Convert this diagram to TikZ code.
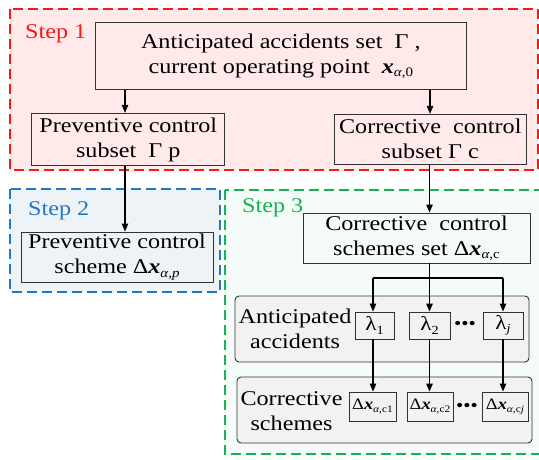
\documentclass[tikz,border=0pt]{standalone}
\usepackage{fontspec}
\usepackage{graphicx}
\setmainfont{Liberation Serif}[FakeStretch=1.15]
\usetikzlibrary{arrows.meta,positioning}

\definecolor{redline}{RGB}{245,25,25}
\definecolor{redfill}{RGB}{255,233,233}
\definecolor{blueline}{RGB}{30,120,200}
\definecolor{bluefill}{RGB}{238,243,248}
\definecolor{greenline}{RGB}{20,180,80}
\definecolor{greenfill}{RGB}{245,251,248}
\definecolor{panelfill}{RGB}{242,242,242}
\definecolor{edgegray}{RGB}{50,50,50}

% bold italic x and lowered small subscripts
\newcommand{\vx}{\textbf{\textit{x}}}
\newcommand{\lsub}[1]{\raisebox{-0.35ex}{\scalebox{0.62}{#1}}}

\begin{document}
\begin{tikzpicture}[x=1pt,y=-1pt,
  every node/.style={font=\fontsize{21}{25}\selectfont, align=center, inner sep=0pt},
  stepframe/.style={line width=1.3pt, dash pattern=on 10pt off 5pt},
  box/.style={draw=edgegray, line width=0.9pt},
  panel/.style={draw=edgegray, line width=0.9pt, fill=panelfill, rounded corners=4pt},
  steplabel/.style={anchor=base west, font=\fontsize{21}{25}\selectfont},
  arr/.style={line width=1.1pt, -{Triangle[length=8pt,width=6.5pt]}},
  smallbox/.style={box, minimum height=29pt, font=\fontsize{16}{18}\selectfont},
  lambox/.style={box, minimum height=27pt, font=\fontsize{20}{24}\selectfont},
  dots/.style={font=\fontsize{18}{20}\selectfont}]
\useasboundingbox (0,0) rectangle (539,460);

% step frames
\draw[stepframe, draw=redline, fill=redfill] (10,9) rectangle (538,170);
\draw[stepframe, draw=blueline, fill=bluefill] (10,189) rectangle (220,292);
\draw[stepframe, draw=greenline, fill=greenfill] (225,190) rectangle (548,454);

\node[steplabel, text=redline] (s1) at (25,39) {Step 1};
\node[steplabel, text=blueline] (s2) at (28,215.5) {Step 2};
\node[steplabel, text=greenline] (s3) at (242,212) {Step 3};

% step 1
\node[box, minimum width=371.7pt, minimum height=66.6pt] (top) at (280.8,56)
  {Anticipated accidents set\ \ Γ\ ,\\current operating point\ \ \vx\lsub{\textit{α},0}};
\node[box, minimum width=193pt, minimum height=52.4pt] (prev) at (128.3,139.5)
  {Preventive control\\subset\ \ Γ\ p};
\node[box, minimum width=192.7pt, minimum height=50pt] (corr) at (430.3,139.3)
  {Corrective\ \ control\\subset Γ\ c};

% step 2
\node[box, minimum width=192pt, minimum height=50pt] (pscheme) at (117,257)
  {Preventive control\\scheme Δ\vx\lsub{\textit{α,p}}};

% step 3
\node[box, minimum width=227pt, minimum height=50pt] (cset) at (416.5,238)
  {Corrective\ \ control\\schemes set Δ\vx\lsub{\textit{α},c}};

\node[panel, minimum width=294pt, minimum height=66pt] (accpanel) at (382,329) {};
\node[panel, minimum width=295pt, minimum height=66pt] (schpanel) at (384.5,410) {};
\node (acclabel) at (295,329) {Anticipated\\accidents};
\node (schlabel) at (291.5,411) {Corrective\\schemes};

\node[lambox, minimum width=39pt] (l1) at (374.5,325.5) {λ\lsub{1}};
\node[lambox, minimum width=41pt] (l2) at (429.5,325.5) {λ\lsub{2}};
\node[lambox, minimum width=40pt] (lj) at (503,325.5) {λ\lsub{\textit{j}}};
\node[dots] (ldots) at (465,325) {•••};

\node[smallbox, minimum width=47pt] (d1) at (372.5,406.5) {Δ\vx\lsub{\textit{α},c1}};
\node[smallbox, minimum width=46pt] (d2) at (430,406.5) {Δ\vx\lsub{\textit{α},c2}};
\node[smallbox, minimum width=46pt] (dj) at (505,406.5) {Δ\vx\lsub{\textit{α},c\textit{j}}};
\node[dots] (ddots) at (467,407) {•••};

% connectors
\draw[arr] (top.south -| 125,0) -- (prev.north -| 125,0);
\draw[arr] (top.south -| 430,0) -- (corr.north -| 430,0);
\draw[arr] (prev.south -| 125,0) -- (pscheme.north -| 125,0);
\draw[arr] (corr.south -| 429.5,0) -- (cset.north -| 429.5,0);

\coordinate (split) at (429.5,278);
\draw[line width=1.1pt] (cset.south -| split) -- (split);
\draw[line width=1.1pt] (split -| 373,0) -- (split -| 503,0);
\draw[arr] (split -| 373,0) -- (l1.north -| 373,0);
\draw[arr] (split) -- (l2.north -| split);
\draw[arr] (split -| 503,0) -- (lj.north -| 503,0);

\draw[arr] (l1.south -| 373,0) -- (d1.north -| 373,0);
\draw[arr] (l2.south -| split) -- (d2.north -| split);
\draw[arr] (lj.south -| 503,0) -- (dj.north -| 503,0);
\end{tikzpicture}
\end{document}
